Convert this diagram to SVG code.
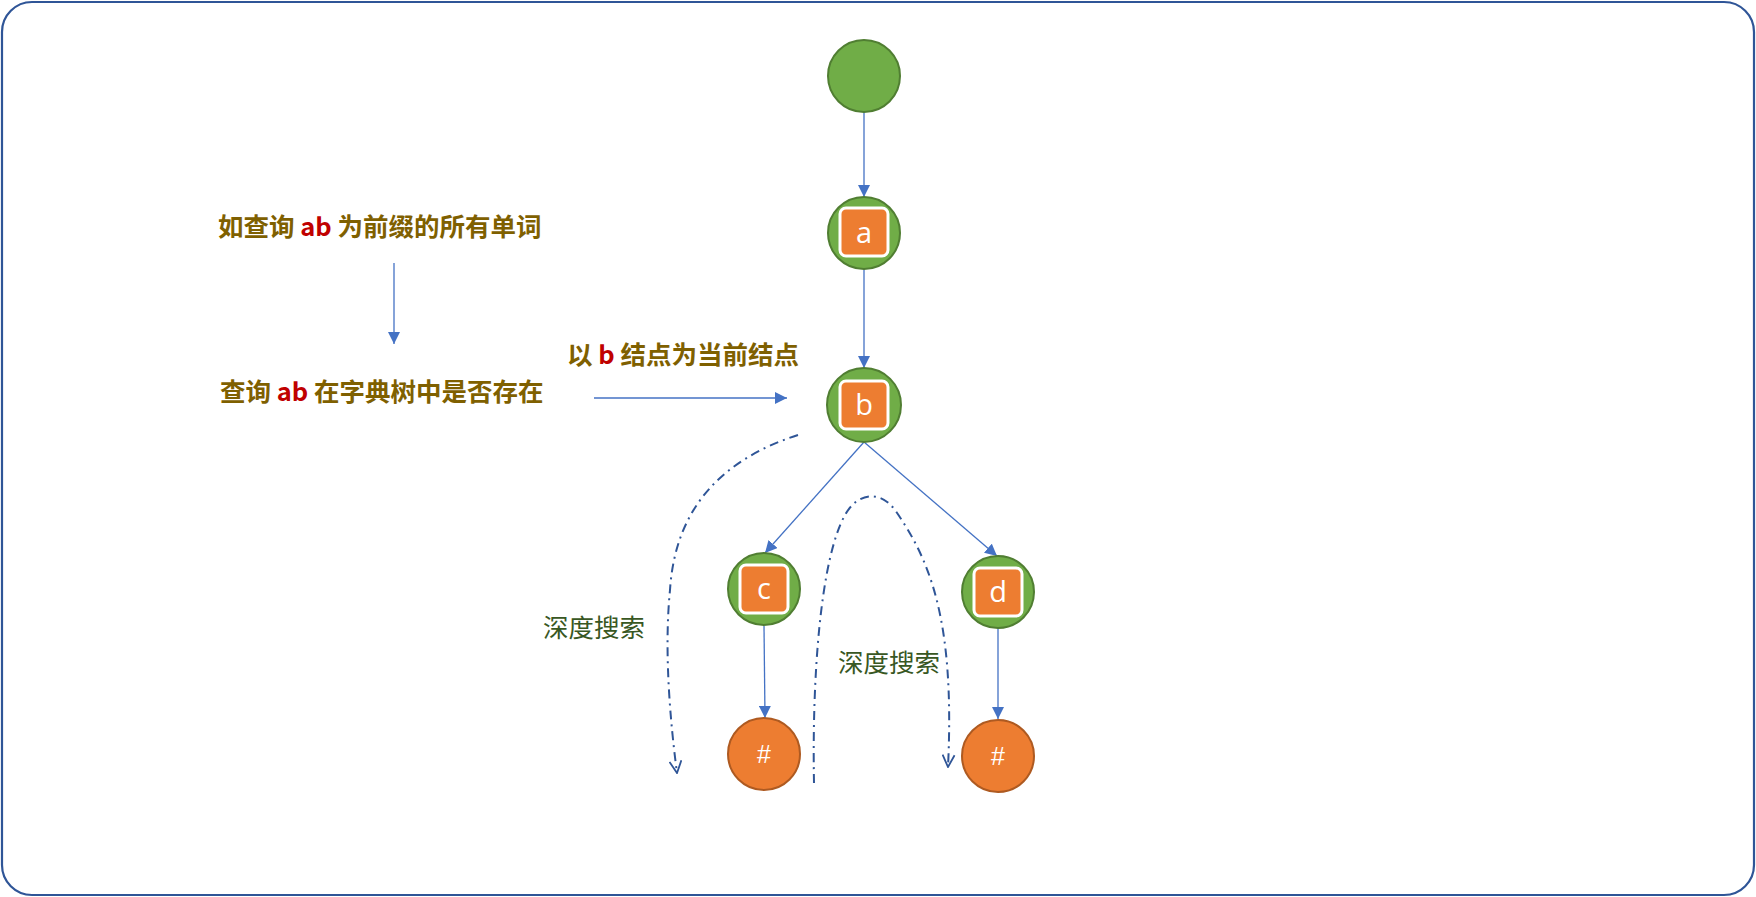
<svg xmlns="http://www.w3.org/2000/svg" width="1756" height="897" viewBox="0 0 1756 897">
<style>
.gn{fill:#70AD47;stroke:#507E32;stroke-width:2}
.on{fill:#ED7D31;stroke:#AE5A21;stroke-width:2}
.sq{fill:#ED7D31;stroke:#FFFFFF;stroke-width:3}
.lt{font-family:"Open Sans","Liberation Sans",sans-serif;font-size:29px;fill:#FFFFFF;text-anchor:middle}
.hs{font-family:"Liberation Sans",sans-serif;font-size:25px;fill:#FFFFFF;text-anchor:middle}
.cap{font-family:"Noto Sans CJK SC",sans-serif;font-size:25.5px;font-weight:bold;fill:#7F6000}
.red{fill:#C00000}
.dfs{font-family:"Noto Sans CJK SC",sans-serif;font-size:25.5px;fill:#385723}
.ln{stroke:#4472C4;stroke-width:1.3;fill:none}
.dd{stroke:#2F5597;stroke-width:2;fill:none;stroke-dasharray:9 5 2 5}
</style>
<defs>
<marker id="ah" viewBox="0 0 12 12" refX="12" refY="6" markerWidth="12" markerHeight="12" markerUnits="userSpaceOnUse" orient="auto">
<path d="M0,0 L12,6 L0,12 Z" fill="#4472C4"/>
</marker>
<marker id="ov" viewBox="0 0 14 14" refX="13" refY="7" markerWidth="14" markerHeight="14" markerUnits="userSpaceOnUse" orient="auto">
<path d="M1,1 L13,7 L1,13" fill="none" stroke="#2F5597" stroke-width="1.8"/>
</marker>
</defs>
<rect x="2" y="2" width="1752" height="893" rx="30" fill="#FFFFFF" stroke="#2F5597" stroke-width="2.2"/>

<g id="connectors">
<line class="ln" x1="864" y1="112" x2="864" y2="197" marker-end="url(#ah)"/>
<line class="ln" x1="864" y1="269" x2="864" y2="368" marker-end="url(#ah)"/>
<line class="ln" x1="864" y1="442" x2="765" y2="553" marker-end="url(#ah)"/>
<line class="ln" x1="864" y1="442" x2="997" y2="556" marker-end="url(#ah)"/>
<line class="ln" x1="764" y1="626" x2="765" y2="718" marker-end="url(#ah)"/>
<line class="ln" x1="998" y1="628" x2="998" y2="719" marker-end="url(#ah)"/>
<line class="ln" x1="394" y1="263" x2="394" y2="344" marker-end="url(#ah)"/>
<line class="ln" x1="594" y1="398" x2="787" y2="398" marker-end="url(#ah)"/>
<path class="dd" d="M798,435 C720,460 675,510 670,590 C664,650 670,720 677,773" marker-end="url(#ov)"/>
<path class="dd" d="M814,783 C812,680 820,560 845,515 C858,492 880,490 895,510 C930,560 955,620 948,767" marker-end="url(#ov)"/>
</g>

<g id="root"><circle class="gn" cx="864" cy="76" r="36"/></g>
<g id="node-a"><circle class="gn" cx="864" cy="233" r="36"/><rect class="sq" x="840" y="208" width="48" height="48" rx="6"/><text class="lt" x="864" y="243">a</text></g>
<g id="node-b"><circle class="gn" cx="864" cy="405" r="37"/><rect class="sq" x="840" y="381" width="48" height="48" rx="6"/><text class="lt" x="864" y="415">b</text></g>
<g id="node-c"><circle class="gn" cx="764" cy="589" r="36"/><rect class="sq" x="740" y="565" width="48" height="48" rx="6"/><text class="lt" x="764" y="599">c</text></g>
<g id="node-d"><circle class="gn" cx="998" cy="592" r="36"/><rect class="sq" x="974" y="568" width="48" height="48" rx="6"/><text class="lt" x="998" y="602">d</text></g>
<g id="end-c"><circle class="on" cx="764" cy="754" r="36"/><text class="hs" x="764" y="763">#</text></g>
<g id="end-d"><circle class="on" cx="998" cy="756" r="36"/><text class="hs" x="998" y="765">#</text></g>

<g id="label1"><text class="cap" x="218" y="236">如查询 <tspan class="red">ab</tspan> 为前缀的所有单词</text></g>
<g id="label2"><text class="cap" x="220" y="401">查询 <tspan class="red">ab</tspan> 在字典树中是否存在</text></g>
<g id="label3"><text class="cap" x="567" y="364">以 <tspan class="red">b</tspan> 结点为当前结点</text></g>
<g id="dfs1"><text class="dfs" x="543" y="637">深度搜索</text></g>
<g id="dfs2"><text class="dfs" x="838" y="672">深度搜索</text></g>
</svg>
